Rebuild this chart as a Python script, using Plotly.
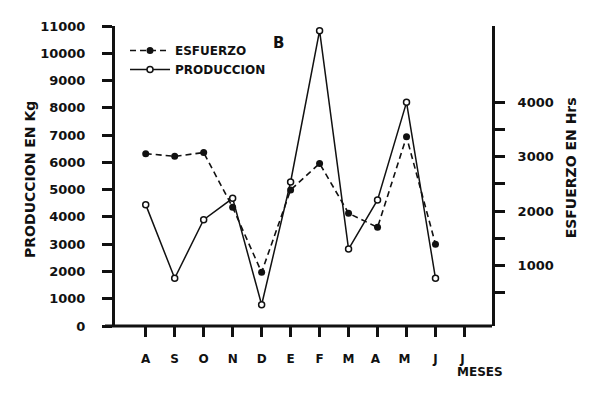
import plotly.graph_objects as go

meses = ["A", "S", "O", "N", "D", "E", "F", "M", "A ", "M ", "J", "J "]
produccion = [4450, 1750, 3900, 4680, 780, 5280, 10830, 2820, 4620, 8200, 1750]
esfuerzo = [3060, 3010, 3080, 2070, 870, 2390, 2880, 1960, 1700, 3370, 1390]

left_ticks = list(range(0, 11001, 1000))
left_text = [str(v) for v in left_ticks]
right_ticks = list(range(500, 4001, 500))
right_text = [str(v) if v % 1000 == 0 else "" for v in right_ticks]

FONT = "DejaVu Sans"
ink = "#111111"

# page body offset of the rendered figure
OFF = 8
FW, FH = 600 - 2 * OFF, 397 - 2 * OFF

# plot area in reference pixels
L, R, T, B = 115, 491.7, 26, 326
W, H = R - L, B - T


def px(x):
    return (x - L) / W


def py(y):
    return (B - y) / H


xs = list(range(len(meses)))

fig = go.Figure()
fig.add_trace(go.Scatter(
    x=xs[:len(esfuerzo)], y=esfuerzo, yaxis="y2", name="ESFUERZO",
    mode="lines+markers",
    line=dict(color=ink, width=1.6, dash="6px,4px"),
    marker=dict(symbol="circle", size=7, color=ink),
))
fig.add_trace(go.Scatter(
    x=xs[:len(produccion)], y=produccion, name="PRODUCCION",
    mode="lines+markers",
    line=dict(color=ink, width=1.5),
    marker=dict(symbol="circle", size=6, color="white",
                line=dict(color=ink, width=1.5)),
))

tick_font = dict(size=13, family=FONT, weight="bold")

fig.update_layout(
    width=FW, height=FH,
    margin=dict(l=L - OFF, r=FW - (R - OFF), t=T - OFF, b=FH - (B - OFF)),
    paper_bgcolor="white", plot_bgcolor="white",
    font=dict(family=FONT, color=ink, size=12),
    showlegend=True,
    legend=dict(x=px(125), y=py(36), xanchor="left", yanchor="top",
                bgcolor="rgba(0,0,0,0)", font=dict(size=12, family=FONT, weight="bold"),
                tracegroupgap=4, itemwidth=40),
    xaxis=dict(
        range=[-1.06, 11.95], tickmode="array", tickvals=xs, ticktext=meses,
        showgrid=False, zeroline=False, showline=False,
        ticks="outside", ticklen=10, tickwidth=3, tickcolor=ink,
        ticklabelstandoff=12,
        tickfont=dict(size=12, family=FONT, weight="bold"),
    ),
    yaxis=dict(
        range=[0, 11000], tickmode="array", tickvals=left_ticks, ticktext=left_text,
        showgrid=False, zeroline=False, showline=True, linewidth=3, linecolor=ink,
        ticks="outside", ticklen=10, tickwidth=3, tickcolor=ink,
        ticklabelstandoff=14,
        tickfont=tick_font,
    ),
    yaxis2=dict(
        range=[-120, 5415], overlaying="y", side="right",
        tickmode="array", tickvals=right_ticks, ticktext=right_text,
        showgrid=False, zeroline=False, showline=True, linewidth=3, linecolor=ink,
        ticks="outside", ticklen=10, tickwidth=3, tickcolor=ink,
        ticklabelstandoff=10,
        tickfont=tick_font,
    ),
)

# bottom axis line (extends slightly left of the y axis)
fig.add_shape(type="line", xref="paper", yref="paper",
              x0=px(105), x1=1, y0=0, y1=0,
              line=dict(color=ink, width=3))

ann_font = dict(family=FONT, color=ink, size=14, weight="bold")
common = dict(xref="paper", yref="paper", showarrow=False,
              xanchor="center", yanchor="middle")
fig.add_annotation(text="PRODUCCION EN Kg", x=px(30), y=py(179),
                   textangle=-90, font=ann_font, **common)
fig.add_annotation(text="ESFUERZO EN Hrs", x=px(571), y=py(168),
                   textangle=-90, font=ann_font, **common)
fig.add_annotation(text="MESES", x=px(480), y=py(372),
                   font=dict(family=FONT, color=ink, size=12, weight="bold"),
                   **common)
fig.add_annotation(text="B", x=px(278), y=py(43),
                   font=dict(family=FONT, color=ink, size=15, weight="bold"),
                   **common)

fig.write_html("out.html")
